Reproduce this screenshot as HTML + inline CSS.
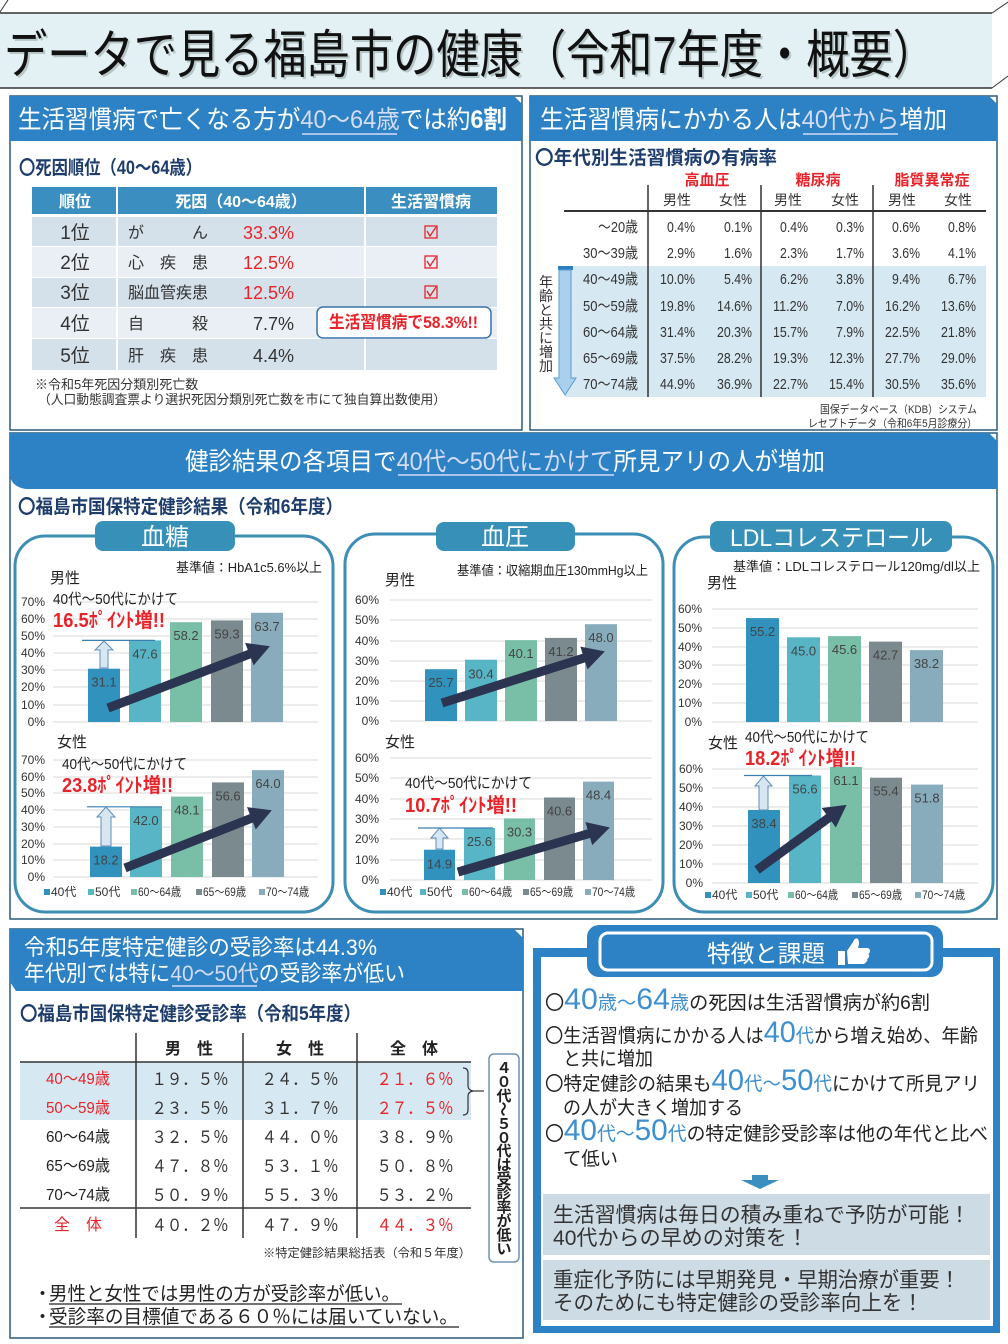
<!DOCTYPE html>
<html><head><meta charset="utf-8">
<style>
html,body{margin:0;padding:0;background:#fff;width:1008px;height:1344px;overflow:hidden}
svg{display:block}
text{font-family:"Liberation Sans","Noto Sans CJK JP",sans-serif}
.w{fill:#fff}
.nv{fill:#1e3d6c;font-weight:bold}
.r{fill:#e8232a}
.ax{font-size:12px;fill:#333;text-anchor:end}
.bl{font-size:13px;fill:#444;text-anchor:middle}
.lg{font-size:12px;fill:#333}
.grid line{stroke:#d9d9d9;stroke-width:1}
</style></head><body>
<svg width="1008" height="1344" viewBox="0 0 1008 1344" xmlns="http://www.w3.org/2000/svg">
<defs>
<marker id="ah" markerUnits="userSpaceOnUse" markerWidth="22" markerHeight="24" refX="2" refY="12" orient="auto"><path d="M0,0 L22,12 L0,24 Z" fill="#2b3450"/></marker>
</defs>
<rect width="1008" height="1344" fill="#fff"/>

<!-- TITLE -->
<rect x="0" y="13" width="992" height="75" fill="#e3f1f5"/>
<line x1="0" y1="13" x2="992" y2="13" stroke="#333" stroke-width="1.5"/>
<line x1="0" y1="88" x2="992" y2="88" stroke="#333" stroke-width="1.5"/>
<line x1="992" y1="13" x2="1008" y2="2" stroke="#333" stroke-width="1"/>
<line x1="992" y1="88" x2="1008" y2="76" stroke="#333" stroke-width="1"/>
<line x1="0" y1="12" x2="8" y2="0" stroke="#333" stroke-width="1"/>
<text x="6" y="75" font-size="52" textLength="932" lengthAdjust="spacingAndGlyphs" fill="#9aa" opacity="0.6">データで見る福島市の健康（令和7年度・概要）</text>
<text x="4" y="73" font-size="52" textLength="932" lengthAdjust="spacingAndGlyphs" fill="#111">データで見る福島市の健康（令和7年度・概要）</text>

<!-- LEFT TOP -->
<rect x="10" y="96" width="512" height="334" fill="#fff" stroke="#2a5b7a" stroke-width="1.5"/>
<path d="M10,96 H514 L522,104 V141 H10 Z" fill="#2c82c4"/>
<text x="18" y="128" font-size="25" textLength="489" lengthAdjust="spacingAndGlyphs" class="w">生活習慣病で亡くなる方が<tspan fill="#d3dbf5">40～64歳</tspan>では約<tspan font-weight="bold">6割</tspan></text>
<line x1="302" y1="134" x2="397" y2="134" stroke="#d3dbf5" stroke-width="1.5"/>
<text x="19" y="174" font-size="19" textLength="183" lengthAdjust="spacingAndGlyphs" class="nv">〇死因順位（40～64歳）</text>

<rect x="32" y="187" width="465" height="27" fill="#3a8fc0"/>
<rect x="32" y="217" width="465" height="29" fill="#d5e1ea"/>
<rect x="32" y="247" width="465" height="30" fill="#e9eff4"/>
<rect x="32" y="278" width="465" height="29" fill="#d5e1ea"/>
<rect x="32" y="308" width="465" height="30" fill="#e9eff4"/>
<rect x="32" y="339" width="465" height="31" fill="#d5e1ea"/>
<line x1="117" y1="187" x2="117" y2="370" stroke="#fff" stroke-width="2"/>
<line x1="365" y1="187" x2="365" y2="370" stroke="#fff" stroke-width="2"/>
<g font-size="16" class="w" font-weight="bold" text-anchor="middle">
<text x="75" y="207">順位</text>
<text x="241" y="207">死因（40～64歳）</text>
<text x="431" y="207">生活習慣病</text>
</g>
<g font-size="19" fill="#333" text-anchor="middle">
<text x="75" y="239">1位</text>
<text x="75" y="269">2位</text>
<text x="75" y="299">3位</text>
<text x="75" y="330">4位</text>
<text x="75" y="362">5位</text>
</g>
<g font-size="16" fill="#333">
<text x="128" y="238">が　　　ん</text>
<text x="128" y="268">心　疾　患</text>
<text x="128" y="298">脳血管疾患</text>
<text x="128" y="329">自　　　殺</text>
<text x="128" y="361">肝　疾　患</text>
</g>
<g font-size="18" text-anchor="end">
<text x="294" y="239" class="r">33.3%</text>
<text x="294" y="269" class="r">12.5%</text>
<text x="294" y="299" class="r">12.5%</text>
<text x="294" y="330" fill="#333">7.7%</text>
<text x="294" y="362" fill="#333">4.4%</text>
</g>
<g fill="none" stroke="#e8232a" stroke-width="1.3">
<rect x="425" y="226" width="12" height="12"/><polyline points="427,231 430,236 436,227"/>
<rect x="425" y="256" width="12" height="12"/><polyline points="427,261 430,266 436,257"/>
<rect x="425" y="286" width="12" height="12"/><polyline points="427,291 430,296 436,287"/>
</g>
<rect x="317" y="307" width="174" height="31" rx="6" fill="#fff" stroke="#3a72a8" stroke-width="1.5"/>
<text x="329" y="328" font-size="17" font-weight="bold" class="r" textLength="149" lengthAdjust="spacingAndGlyphs">生活習慣病で58.3%!!</text>
<text x="35" y="389" font-size="13" fill="#333">※令和5年死因分類別死亡数</text>
<text x="38" y="404" font-size="13" fill="#333" textLength="408" lengthAdjust="spacingAndGlyphs">（人口動態調査票より選択死因分類別死亡数を市にて独自算出数使用）</text>

<!-- RIGHT TOP -->
<rect x="530" y="96" width="467" height="334" fill="#fff" stroke="#2a5b7a" stroke-width="1.5"/>
<path d="M530,96 H989 L997,104 V141 H530 Z" fill="#2c82c4"/>
<text x="540" y="128" font-size="25" textLength="407" lengthAdjust="spacingAndGlyphs" class="w">生活習慣病にかかる人は<tspan fill="#d3dbf5">40代から</tspan>増加</text>
<line x1="803" y1="134" x2="898" y2="134" stroke="#d3dbf5" stroke-width="1.5"/>
<text x="535" y="164" font-size="19" textLength="242" lengthAdjust="spacingAndGlyphs" class="nv">〇年代別生活習慣病の有病率</text>
<rect x="565" y="266" width="421" height="131" fill="#d6e8f2"/>
<g font-size="15" font-weight="bold" class="r" text-anchor="middle">
<text x="707" y="185">高血圧</text><text x="818" y="185">糖尿病</text><text x="932" y="185">脂質異常症</text>
</g>
<g font-size="14" fill="#333" text-anchor="middle">
<text x="677" y="205">男性</text><text x="733" y="205">女性</text>
<text x="788" y="205">男性</text><text x="845" y="205">女性</text>
<text x="902" y="205">男性</text><text x="958" y="205">女性</text>
</g>
<line x1="564" y1="211" x2="986" y2="211" stroke="#333" stroke-width="2"/>
<g stroke="#333" stroke-width="1.5">
<line x1="648" y1="185" x2="648" y2="397"/><line x1="761" y1="185" x2="761" y2="397"/><line x1="873" y1="185" x2="873" y2="397"/>
</g>
<g font-size="15" fill="#333" text-anchor="end">
<text x="638" y="232" textLength="40" lengthAdjust="spacingAndGlyphs">～20歳</text>
<text x="638" y="258" textLength="55" lengthAdjust="spacingAndGlyphs">30～39歳</text>
<text x="638" y="284" textLength="55" lengthAdjust="spacingAndGlyphs">40～49歳</text>
<text x="638" y="311" textLength="55" lengthAdjust="spacingAndGlyphs">50～59歳</text>
<text x="638" y="337" textLength="55" lengthAdjust="spacingAndGlyphs">60～64歳</text>
<text x="638" y="363" textLength="55" lengthAdjust="spacingAndGlyphs">65～69歳</text>
<text x="638" y="389" textLength="55" lengthAdjust="spacingAndGlyphs">70～74歳</text>

<text x="695" y="232" textLength="28" lengthAdjust="spacingAndGlyphs">0.4%</text>
<text x="752" y="232" textLength="28" lengthAdjust="spacingAndGlyphs">0.1%</text>
<text x="808" y="232" textLength="28" lengthAdjust="spacingAndGlyphs">0.4%</text>
<text x="864" y="232" textLength="28" lengthAdjust="spacingAndGlyphs">0.3%</text>
<text x="920" y="232" textLength="28" lengthAdjust="spacingAndGlyphs">0.6%</text>
<text x="976" y="232" textLength="28" lengthAdjust="spacingAndGlyphs">0.8%</text>

<text x="695" y="258" textLength="28" lengthAdjust="spacingAndGlyphs">2.9%</text>
<text x="752" y="258" textLength="28" lengthAdjust="spacingAndGlyphs">1.6%</text>
<text x="808" y="258" textLength="28" lengthAdjust="spacingAndGlyphs">2.3%</text>
<text x="864" y="258" textLength="28" lengthAdjust="spacingAndGlyphs">1.7%</text>
<text x="920" y="258" textLength="28" lengthAdjust="spacingAndGlyphs">3.6%</text>
<text x="976" y="258" textLength="28" lengthAdjust="spacingAndGlyphs">4.1%</text>

<text x="695" y="284" textLength="35" lengthAdjust="spacingAndGlyphs">10.0%</text>
<text x="752" y="284" textLength="28" lengthAdjust="spacingAndGlyphs">5.4%</text>
<text x="808" y="284" textLength="28" lengthAdjust="spacingAndGlyphs">6.2%</text>
<text x="864" y="284" textLength="28" lengthAdjust="spacingAndGlyphs">3.8%</text>
<text x="920" y="284" textLength="28" lengthAdjust="spacingAndGlyphs">9.4%</text>
<text x="976" y="284" textLength="28" lengthAdjust="spacingAndGlyphs">6.7%</text>

<text x="695" y="311" textLength="35" lengthAdjust="spacingAndGlyphs">19.8%</text>
<text x="752" y="311" textLength="35" lengthAdjust="spacingAndGlyphs">14.6%</text>
<text x="808" y="311" textLength="35" lengthAdjust="spacingAndGlyphs">11.2%</text>
<text x="864" y="311" textLength="28" lengthAdjust="spacingAndGlyphs">7.0%</text>
<text x="920" y="311" textLength="35" lengthAdjust="spacingAndGlyphs">16.2%</text>
<text x="976" y="311" textLength="35" lengthAdjust="spacingAndGlyphs">13.6%</text>

<text x="695" y="337" textLength="35" lengthAdjust="spacingAndGlyphs">31.4%</text>
<text x="752" y="337" textLength="35" lengthAdjust="spacingAndGlyphs">20.3%</text>
<text x="808" y="337" textLength="35" lengthAdjust="spacingAndGlyphs">15.7%</text>
<text x="864" y="337" textLength="28" lengthAdjust="spacingAndGlyphs">7.9%</text>
<text x="920" y="337" textLength="35" lengthAdjust="spacingAndGlyphs">22.5%</text>
<text x="976" y="337" textLength="35" lengthAdjust="spacingAndGlyphs">21.8%</text>

<text x="695" y="363" textLength="35" lengthAdjust="spacingAndGlyphs">37.5%</text>
<text x="752" y="363" textLength="35" lengthAdjust="spacingAndGlyphs">28.2%</text>
<text x="808" y="363" textLength="35" lengthAdjust="spacingAndGlyphs">19.3%</text>
<text x="864" y="363" textLength="35" lengthAdjust="spacingAndGlyphs">12.3%</text>
<text x="920" y="363" textLength="35" lengthAdjust="spacingAndGlyphs">27.7%</text>
<text x="976" y="363" textLength="35" lengthAdjust="spacingAndGlyphs">29.0%</text>

<text x="695" y="389" textLength="35" lengthAdjust="spacingAndGlyphs">44.9%</text>
<text x="752" y="389" textLength="35" lengthAdjust="spacingAndGlyphs">36.9%</text>
<text x="808" y="389" textLength="35" lengthAdjust="spacingAndGlyphs">22.7%</text>
<text x="864" y="389" textLength="35" lengthAdjust="spacingAndGlyphs">15.4%</text>
<text x="920" y="389" textLength="35" lengthAdjust="spacingAndGlyphs">30.5%</text>
<text x="976" y="389" textLength="35" lengthAdjust="spacingAndGlyphs">35.6%</text>
</g>
<!-- vertical arrow -->
<rect x="558" y="266" width="15" height="4" fill="#2f7fbf"/>
<polygon points="559,270 571,270 571,378 576,378 565,395 554,378 559,378" fill="#a9d0ec" stroke="#5b9bd5" stroke-width="1"/>
<g font-size="14" fill="#333" text-anchor="middle">
<text x="546" y="287">年</text><text x="546" y="301">齢</text><text x="546" y="315">と</text><text x="546" y="329">共</text><text x="546" y="343">に</text><text x="546" y="357">増</text><text x="546" y="371">加</text>
</g>
<text x="977" y="413" font-size="11" fill="#333" text-anchor="end" textLength="157" lengthAdjust="spacingAndGlyphs">国保データベース（KDB）システム</text>
<text x="977" y="427" font-size="11" fill="#333" text-anchor="end" textLength="169" lengthAdjust="spacingAndGlyphs">レセプトデータ（令和6年5月診療分）</text>

<!-- MIDDLE SECTION -->
<rect x="10" y="433" width="987" height="486" fill="#fff" stroke="#2a5b7a" stroke-width="1.5"/>
<path d="M10,433 H989 L997,441 V489 H26 Q12,487 10,476 Z" fill="#2c82c4"/>
<text x="185" y="470" font-size="25" textLength="640" lengthAdjust="spacingAndGlyphs" class="w">健診結果の各項目で<tspan fill="#d3dbf5">40代～50代にかけて</tspan>所見アリの人が増加</text>
<line x1="398" y1="475" x2="614" y2="475" stroke="#d3dbf5" stroke-width="1.5"/>
<text x="18" y="513" font-size="19" textLength="325" lengthAdjust="spacingAndGlyphs" class="nv">〇福島市国保特定健診結果（令和6年度）</text>

<!-- panels -->
<rect x="15" y="536" width="318" height="376" rx="30" fill="#fff" stroke="#3d8eb5" stroke-width="3"/>
<rect x="345" y="534" width="318" height="378" rx="30" fill="#fff" stroke="#3d8eb5" stroke-width="3"/>
<rect x="674" y="537" width="319" height="375" rx="30" fill="#fff" stroke="#3d8eb5" stroke-width="3"/>
<rect x="95" y="521" width="140" height="30" rx="8" fill="#3790b8"/>
<rect x="436" y="522" width="139" height="29" rx="8" fill="#3790b8"/>
<rect x="710" y="521" width="242" height="31" rx="8" fill="#3790b8"/>
<text x="165" y="545" font-size="24" class="w" text-anchor="middle">血糖</text>
<text x="505" y="545" font-size="24" class="w" text-anchor="middle">血圧</text>
<text x="730" y="546" font-size="24" class="w" textLength="203" lengthAdjust="spacingAndGlyphs">LDLコレステロール</text>

<!-- CHART 1 -->
<text x="322" y="572" font-size="13" fill="#222" text-anchor="end" textLength="146" lengthAdjust="spacingAndGlyphs">基準値：HbA1c5.6%以上</text>
<text x="50" y="583" font-size="15" fill="#222">男性</text>
<g class="grid">
<line x1="53" y1="602" x2="318" y2="602"/><line x1="53" y1="619" x2="318" y2="619"/><line x1="53" y1="636" x2="318" y2="636"/><line x1="53" y1="653" x2="318" y2="653"/><line x1="53" y1="670" x2="318" y2="670"/><line x1="53" y1="687" x2="318" y2="687"/><line x1="53" y1="705" x2="318" y2="705"/><line x1="53" y1="722" x2="318" y2="722"/>
<line x1="53" y1="760" x2="318" y2="760"/><line x1="53" y1="777" x2="318" y2="777"/><line x1="53" y1="793" x2="318" y2="793"/><line x1="53" y1="810" x2="318" y2="810"/><line x1="53" y1="827" x2="318" y2="827"/><line x1="53" y1="844" x2="318" y2="844"/><line x1="53" y1="860" x2="318" y2="860"/><line x1="53" y1="877" x2="318" y2="877"/>
</g>
<g class="ax">
<text x="45" y="606">70%</text><text x="45" y="623">60%</text><text x="45" y="640">50%</text><text x="45" y="657">40%</text><text x="45" y="674">30%</text><text x="45" y="691">20%</text><text x="45" y="709">10%</text><text x="45" y="726">0%</text>
<text x="45" y="764">70%</text><text x="45" y="781">60%</text><text x="45" y="797">50%</text><text x="45" y="814">40%</text><text x="45" y="831">30%</text><text x="45" y="848">20%</text><text x="45" y="864">10%</text><text x="45" y="881">0%</text>
</g>
<rect x="88" y="668.7" width="32" height="53.3" fill="#3192bd"/>
<rect x="129" y="640.4" width="32" height="81.6" fill="#57b5c6"/>
<rect x="170" y="622.2" width="32" height="99.8" fill="#79bea7"/>
<rect x="211" y="620.4" width="32" height="101.6" fill="#7b8a8e"/>
<rect x="251" y="612.8" width="32" height="109.2" fill="#88acbb"/>
<g class="bl"><text x="104" y="686.7">31.1</text><text x="145" y="658.4">47.6</text><text x="186" y="640.2">58.2</text><text x="227" y="638.4">59.3</text><text x="267" y="630.8">63.7</text></g>
<line x1="82" y1="640.4" x2="155" y2="640.4" stroke="#3a7fb0" stroke-width="1.2"/>
<polygon points="100,668 100,650 95,650 104,641 113,650 108,650 108,668" fill="#d8e6f2" stroke="#5f8db8" stroke-width="1"/>
<line x1="108" y1="708" x2="251.2" y2="653.4" stroke="#2b3450" stroke-width="9" marker-end="url(#ah)"/>
<text x="53" y="604" font-size="15" fill="#222" textLength="125" lengthAdjust="spacingAndGlyphs">40代～50代にかけて</text>
<text x="53" y="627" font-size="20" font-weight="bold" class="r" textLength="112" lengthAdjust="spacingAndGlyphs">16.5ﾎﾟｲﾝﾄ増!!</text>

<text x="57" y="747" font-size="15" fill="#222">女性</text>
<rect x="90" y="846.6" width="32" height="30.4" fill="#3192bd"/>
<rect x="130" y="806.8" width="32" height="70.2" fill="#57b5c6"/>
<rect x="171" y="796.6" width="32" height="80.4" fill="#79bea7"/>
<rect x="212" y="782.4" width="32" height="94.6" fill="#7b8a8e"/>
<rect x="252" y="770.1" width="32" height="106.9" fill="#88acbb"/>
<g class="bl"><text x="106" y="864.6">18.2</text><text x="146" y="824.8">42.0</text><text x="187" y="814.6">48.1</text><text x="228" y="800.4">56.6</text><text x="268" y="788.1">64.0</text></g>
<line x1="87" y1="806.8" x2="162" y2="806.8" stroke="#3a7fb0" stroke-width="1.2"/>
<polygon points="101,846 101,817 97,817 106,807 115,817 111,817 111,846" fill="#d8e6f2" stroke="#5f8db8" stroke-width="1"/>
<line x1="125" y1="868" x2="253.2" y2="817.6" stroke="#2b3450" stroke-width="9" marker-end="url(#ah)"/>
<text x="62" y="769" font-size="15" fill="#222" textLength="125" lengthAdjust="spacingAndGlyphs">40代～50代にかけて</text>
<text x="62" y="792" font-size="20" font-weight="bold" class="r" textLength="111" lengthAdjust="spacingAndGlyphs">23.8ﾎﾟｲﾝﾄ増!!</text>
<rect x="44" y="889" width="6" height="6" fill="#3192bd"/><text x="51" y="896" class="lg">40代</text>
<rect x="88" y="889" width="6" height="6" fill="#57b5c6"/><text x="95" y="896" class="lg">50代</text>
<rect x="131" y="889" width="6" height="6" fill="#79bea7"/><text x="138" y="896" class="lg" textLength="43" lengthAdjust="spacingAndGlyphs">60～64歳</text>
<rect x="196" y="889" width="6" height="6" fill="#7b8a8e"/><text x="203" y="896" class="lg" textLength="43" lengthAdjust="spacingAndGlyphs">65～69歳</text>
<rect x="259" y="889" width="6" height="6" fill="#88acbb"/><text x="266" y="896" class="lg" textLength="43" lengthAdjust="spacingAndGlyphs">70～74歳</text>

<!-- CHART 2 -->
<text x="648" y="575" font-size="13" fill="#222" text-anchor="end" textLength="191" lengthAdjust="spacingAndGlyphs">基準値：収縮期血圧130mmHg以上</text>
<text x="385" y="585" font-size="15" fill="#222">男性</text>
<g class="grid">
<line x1="390" y1="600" x2="652" y2="600"/><line x1="390" y1="620" x2="652" y2="620"/><line x1="390" y1="641" x2="652" y2="641"/><line x1="390" y1="661" x2="652" y2="661"/><line x1="390" y1="681" x2="652" y2="681"/><line x1="390" y1="701" x2="652" y2="701"/><line x1="390" y1="721" x2="652" y2="721"/>
<line x1="390" y1="758" x2="652" y2="758"/><line x1="390" y1="778" x2="652" y2="778"/><line x1="390" y1="799" x2="652" y2="799"/><line x1="390" y1="819" x2="652" y2="819"/><line x1="390" y1="839" x2="652" y2="839"/><line x1="390" y1="860" x2="652" y2="860"/><line x1="390" y1="880" x2="652" y2="880"/>
</g>
<g class="ax">
<text x="379" y="604">60%</text><text x="379" y="624">50%</text><text x="379" y="645">40%</text><text x="379" y="665">30%</text><text x="379" y="685">20%</text><text x="379" y="705">10%</text><text x="379" y="725">0%</text>
<text x="379" y="762">60%</text><text x="379" y="782">50%</text><text x="379" y="803">40%</text><text x="379" y="823">30%</text><text x="379" y="843">20%</text><text x="379" y="864">10%</text><text x="379" y="884">0%</text>
</g>
<rect x="425" y="669.2" width="32" height="51.8" fill="#3192bd"/>
<rect x="465" y="659.7" width="32" height="61.3" fill="#57b5c6"/>
<rect x="505" y="640.1" width="32" height="80.9" fill="#79bea7"/>
<rect x="545" y="637.9" width="32" height="83.1" fill="#7b8a8e"/>
<rect x="585" y="624.2" width="32" height="96.8" fill="#88acbb"/>
<g class="bl"><text x="441" y="687.2">25.7</text><text x="481" y="678.7">30.4</text><text x="521" y="658.1">40.1</text><text x="561" y="655.9">41.2</text><text x="601" y="642.2">48.0</text></g>
<line x1="442" y1="703" x2="585.8" y2="657.4" stroke="#2b3450" stroke-width="9" marker-end="url(#ah)"/>

<text x="385" y="747" font-size="15" fill="#222">女性</text>
<rect x="424" y="849.7" width="31" height="30.3" fill="#3192bd"/>
<rect x="464" y="828" width="31" height="52" fill="#57b5c6"/>
<rect x="504" y="818.4" width="31" height="61.6" fill="#79bea7"/>
<rect x="544" y="797.5" width="31" height="82.5" fill="#7b8a8e"/>
<rect x="583" y="781.6" width="31" height="98.4" fill="#88acbb"/>
<g class="bl"><text x="439.5" y="868.7">14.9</text><text x="479.5" y="846">25.6</text><text x="519.5" y="836.4">30.3</text><text x="559.5" y="815.5">40.6</text><text x="598.5" y="799.6">48.4</text></g>
<line x1="418" y1="828" x2="493" y2="828" stroke="#3a7fb0" stroke-width="1.2"/>
<polygon points="436,849 436,838 431,838 439.5,828 448,838 443,838 443,849" fill="#d8e6f2" stroke="#5f8db8" stroke-width="1"/>
<line x1="458" y1="872" x2="590.7" y2="833.1" stroke="#2b3450" stroke-width="9" marker-end="url(#ah)"/>
<text x="405" y="788" font-size="15" fill="#222" textLength="127" lengthAdjust="spacingAndGlyphs">40代～50代にかけて</text>
<text x="405" y="812" font-size="20" font-weight="bold" class="r" textLength="112" lengthAdjust="spacingAndGlyphs">10.7ﾎﾟｲﾝﾄ増!!</text>
<rect x="380" y="889" width="6" height="6" fill="#3192bd"/><text x="387" y="896" class="lg">40代</text>
<rect x="420" y="889" width="6" height="6" fill="#57b5c6"/><text x="427" y="896" class="lg">50代</text>
<rect x="462" y="889" width="6" height="6" fill="#79bea7"/><text x="469" y="896" class="lg" textLength="43" lengthAdjust="spacingAndGlyphs">60～64歳</text>
<rect x="523" y="889" width="6" height="6" fill="#7b8a8e"/><text x="530" y="896" class="lg" textLength="43" lengthAdjust="spacingAndGlyphs">65～69歳</text>
<rect x="585" y="889" width="6" height="6" fill="#88acbb"/><text x="592" y="896" class="lg" textLength="43" lengthAdjust="spacingAndGlyphs">70～74歳</text>

<!-- CHART 3 -->
<text x="980" y="571" font-size="13" fill="#222" text-anchor="end" textLength="247" lengthAdjust="spacingAndGlyphs">基準値：LDLコレステロール120mg/dl以上</text>
<text x="707" y="588" font-size="15" fill="#222">男性</text>
<g class="grid">
<line x1="712" y1="609" x2="978" y2="609"/><line x1="712" y1="628" x2="978" y2="628"/><line x1="712" y1="647" x2="978" y2="647"/><line x1="712" y1="665" x2="978" y2="665"/><line x1="712" y1="684" x2="978" y2="684"/><line x1="712" y1="703" x2="978" y2="703"/><line x1="712" y1="722" x2="978" y2="722"/>
<line x1="712" y1="769" x2="978" y2="769"/><line x1="712" y1="788" x2="978" y2="788"/><line x1="712" y1="807" x2="978" y2="807"/><line x1="712" y1="826" x2="978" y2="826"/><line x1="712" y1="845" x2="978" y2="845"/><line x1="712" y1="864" x2="978" y2="864"/><line x1="712" y1="883" x2="978" y2="883"/>
</g>
<g class="ax">
<text x="702" y="613">60%</text><text x="702" y="632">50%</text><text x="702" y="651">40%</text><text x="702" y="669">30%</text><text x="702" y="688">20%</text><text x="702" y="707">10%</text><text x="702" y="726">0%</text>
<text x="703" y="773">60%</text><text x="703" y="792">50%</text><text x="703" y="811">40%</text><text x="703" y="830">30%</text><text x="703" y="849">20%</text><text x="703" y="868">10%</text><text x="703" y="887">0%</text>
</g>
<rect x="746" y="618.1" width="33" height="103.9" fill="#3192bd"/>
<rect x="787" y="637.3" width="33" height="84.7" fill="#57b5c6"/>
<rect x="828" y="636.1" width="33" height="85.9" fill="#79bea7"/>
<rect x="869" y="641.6" width="33" height="80.4" fill="#7b8a8e"/>
<rect x="910" y="650.1" width="33" height="71.9" fill="#88acbb"/>
<g class="bl"><text x="762.5" y="636.1">55.2</text><text x="803.5" y="655.3">45.0</text><text x="844.5" y="654.1">45.6</text><text x="885.5" y="659.6">42.7</text><text x="926.5" y="668.1">38.2</text></g>

<text x="708" y="748" font-size="15" fill="#222">女性</text>
<rect x="748" y="810" width="32" height="73" fill="#3192bd"/>
<rect x="789" y="775.5" width="32" height="107.5" fill="#57b5c6"/>
<rect x="830" y="766.9" width="32" height="116.1" fill="#79bea7"/>
<rect x="870" y="777.7" width="32" height="105.3" fill="#7b8a8e"/>
<rect x="911" y="784.6" width="32" height="98.4" fill="#88acbb"/>
<g class="bl"><text x="764" y="828">38.4</text><text x="805" y="793.5">56.6</text><text x="846" y="784.9">61.1</text><text x="886" y="795.7">55.4</text><text x="927" y="802.6">51.8</text></g>
<line x1="744" y1="775.5" x2="812" y2="775.5" stroke="#3a7fb0" stroke-width="1.2"/>
<polygon points="759,810 759,786 755,786 763.5,776 772,786 768,786 768,810" fill="#d8e6f2" stroke="#5f8db8" stroke-width="1"/>
<line x1="757" y1="870" x2="830.4" y2="816.6" stroke="#2b3450" stroke-width="9" marker-end="url(#ah)"/>
<text x="745" y="742" font-size="15" fill="#222" textLength="124" lengthAdjust="spacingAndGlyphs">40代～50代にかけて</text>
<text x="745" y="765" font-size="20" font-weight="bold" class="r" textLength="111" lengthAdjust="spacingAndGlyphs">18.2ﾎﾟｲﾝﾄ増!!</text>
<rect x="705" y="892" width="6" height="6" fill="#3192bd"/><text x="712" y="899" class="lg">40代</text>
<rect x="746" y="892" width="6" height="6" fill="#57b5c6"/><text x="753" y="899" class="lg">50代</text>
<rect x="788" y="892" width="6" height="6" fill="#79bea7"/><text x="795" y="899" class="lg" textLength="43" lengthAdjust="spacingAndGlyphs">60～64歳</text>
<rect x="852" y="892" width="6" height="6" fill="#7b8a8e"/><text x="859" y="899" class="lg" textLength="43" lengthAdjust="spacingAndGlyphs">65～69歳</text>
<rect x="915" y="892" width="6" height="6" fill="#88acbb"/><text x="922" y="899" class="lg" textLength="43" lengthAdjust="spacingAndGlyphs">70～74歳</text>

<!-- BOTTOM LEFT -->
<rect x="10" y="929" width="513" height="409" fill="#fff" stroke="#2a5b7a" stroke-width="1.5"/>
<path d="M10,929 H514 L523,938 V991 H16 L10,982 Z" fill="#2c82c4"/>
<text x="24" y="955" font-size="22" class="w" textLength="353" lengthAdjust="spacingAndGlyphs">令和5年度特定健診の受診率は44.3%</text>
<text x="24" y="981" font-size="22" class="w" textLength="381" lengthAdjust="spacingAndGlyphs">年代別では特に<tspan fill="#d3dbf5">40～50代</tspan>の受診率が低い</text>
<line x1="172" y1="986" x2="257" y2="986" stroke="#d3dbf5" stroke-width="1.5"/>
<text x="20" y="1020" font-size="19" textLength="341" lengthAdjust="spacingAndGlyphs" class="nv">〇福島市国保特定健診受診率（令和5年度）</text>
<rect x="20" y="1062" width="451" height="58" fill="#d6e8f2"/>
<g stroke="#333" stroke-width="1.5">
<line x1="136" y1="1033" x2="136" y2="1238"/><line x1="243" y1="1033" x2="243" y2="1238"/><line x1="357" y1="1033" x2="357" y2="1238"/>
<line x1="20" y1="1062" x2="471" y2="1062"/><line x1="20" y1="1208" x2="471" y2="1208"/>
</g>
<g font-size="16" font-weight="bold" fill="#222" text-anchor="middle">
<text x="189" y="1054">男　性</text><text x="300" y="1054">女　性</text><text x="414" y="1054">全　体</text>
</g>
<g font-size="16" text-anchor="middle">
<text x="78" y="1084" class="r" textLength="64" lengthAdjust="spacingAndGlyphs">40～49歳</text>
<text x="78" y="1113" class="r" textLength="64" lengthAdjust="spacingAndGlyphs">50～59歳</text>
<text x="78" y="1142" fill="#222" textLength="64" lengthAdjust="spacingAndGlyphs">60～64歳</text>
<text x="78" y="1171" fill="#222" textLength="64" lengthAdjust="spacingAndGlyphs">65～69歳</text>
<text x="78" y="1200" fill="#222" textLength="64" lengthAdjust="spacingAndGlyphs">70～74歳</text>
<text x="78" y="1230" class="r">全　体</text>
</g>
<g font-size="17" fill="#333" text-anchor="middle">
<text x="190" y="1085" textLength="77" lengthAdjust="spacingAndGlyphs">１９．５％</text>
<text x="300" y="1085" textLength="77" lengthAdjust="spacingAndGlyphs">２４．５％</text>
<text x="415" y="1085" textLength="77" lengthAdjust="spacingAndGlyphs" class="r">２１．６％</text>
<text x="190" y="1114" textLength="77" lengthAdjust="spacingAndGlyphs">２３．５％</text>
<text x="300" y="1114" textLength="77" lengthAdjust="spacingAndGlyphs">３１．７％</text>
<text x="415" y="1114" textLength="77" lengthAdjust="spacingAndGlyphs" class="r">２７．５％</text>
<text x="190" y="1143" textLength="77" lengthAdjust="spacingAndGlyphs">３２．５％</text>
<text x="300" y="1143" textLength="77" lengthAdjust="spacingAndGlyphs">４４．０％</text>
<text x="415" y="1143" textLength="77" lengthAdjust="spacingAndGlyphs">３８．９％</text>
<text x="190" y="1172" textLength="77" lengthAdjust="spacingAndGlyphs">４７．８％</text>
<text x="300" y="1172" textLength="77" lengthAdjust="spacingAndGlyphs">５３．１％</text>
<text x="415" y="1172" textLength="77" lengthAdjust="spacingAndGlyphs">５０．８％</text>
<text x="190" y="1201" textLength="77" lengthAdjust="spacingAndGlyphs">５０．９％</text>
<text x="300" y="1201" textLength="77" lengthAdjust="spacingAndGlyphs">５５．３％</text>
<text x="415" y="1201" textLength="77" lengthAdjust="spacingAndGlyphs">５３．２％</text>
<text x="190" y="1231" textLength="77" lengthAdjust="spacingAndGlyphs">４０．２％</text>
<text x="300" y="1231" textLength="77" lengthAdjust="spacingAndGlyphs">４７．９％</text>
<text x="415" y="1231" textLength="77" lengthAdjust="spacingAndGlyphs" class="r">４４．３％</text>
</g>
<path d="M463,1068 Q468,1068 468,1073 V1086 Q468,1090 473,1091 Q468,1092 468,1096 V1110 Q468,1115 463,1115" fill="none" stroke="#333" stroke-width="1.2"/>
<line x1="473" y1="1091" x2="484" y2="1091" stroke="#333" stroke-width="1.2"/>
<rect x="489" y="1054" width="30" height="208" rx="5" fill="#fff" stroke="#6f93b3" stroke-width="1.5"/>
<g font-size="15" font-weight="bold" fill="#222" text-anchor="middle">
<text x="504" y="1073">４</text><text x="504" y="1087">０</text><text x="504" y="1101">代</text>
<text x="504" y="1115" transform="rotate(90 504 1109)">～</text>
<text x="504" y="1129">５</text><text x="504" y="1143">０</text><text x="504" y="1156">代</text><text x="504" y="1170">は</text><text x="504" y="1184">受</text><text x="504" y="1198">診</text><text x="504" y="1212">率</text><text x="504" y="1226">が</text><text x="504" y="1240">低</text><text x="504" y="1254">い</text>
</g>
<text x="471" y="1257" font-size="12" fill="#333" text-anchor="end" textLength="208" lengthAdjust="spacingAndGlyphs">※特定健診結果総括表（令和５年度）</text>
<text x="33" y="1300" font-size="19" fill="#222">・</text>
<text x="49" y="1300" font-size="19" fill="#222" textLength="351" lengthAdjust="spacingAndGlyphs">男性と女性では男性の方が受診率が低い。</text>
<line x1="49" y1="1304" x2="402" y2="1304" stroke="#222" stroke-width="1.3"/>
<text x="33" y="1323" font-size="19" fill="#222">・</text>
<text x="49" y="1323" font-size="19" fill="#222" textLength="409" lengthAdjust="spacingAndGlyphs">受診率の目標値である６０％には届いていない。</text>
<line x1="49" y1="1327" x2="459" y2="1327" stroke="#222" stroke-width="1.3"/>

<!-- BOTTOM RIGHT -->
<rect x="533" y="948" width="467" height="385" fill="#2c82c4"/>
<rect x="541" y="957" width="452" height="369" fill="#fff"/>
<rect x="587" y="925" width="356" height="52" rx="12" fill="#2c82c4"/>
<rect x="600" y="933" width="332" height="37" rx="8" fill="#2c82c4" stroke="#fff" stroke-width="3"/>
<text x="707" y="962" font-size="24" class="w" textLength="118" lengthAdjust="spacingAndGlyphs">特徴と課題</text>
<path d="M838,951 h7 v14 h-7 z M847,951 l6,-9 q2,-5 5,-3 q2,3 0,9 h9 q3,0 3,3 q0,2 -2,3 q2,1 1,3 q-1,2 -2,2 q1,2 -1,3 q-1,2 -3,2 h-15 z" fill="#fff"/>
<g fill="#222">
<text x="545" y="1009" font-size="19" textLength="385" lengthAdjust="spacingAndGlyphs">〇<tspan fill="#3d8fd0" font-size="30">40</tspan><tspan fill="#3d8fd0">歳～</tspan><tspan fill="#3d8fd0" font-size="30">64</tspan><tspan fill="#3d8fd0">歳</tspan>の死因は生活習慣病が約6割</text>
<text x="545" y="1042" font-size="19" textLength="433" lengthAdjust="spacingAndGlyphs">〇生活習慣病にかかる人は<tspan fill="#3d8fd0" font-size="30">40</tspan><tspan fill="#3d8fd0">代</tspan>から増え始め、年齢</text>
<text x="563" y="1065" font-size="19" textLength="90" lengthAdjust="spacingAndGlyphs">と共に増加</text>
<text x="545" y="1090" font-size="19" textLength="435" lengthAdjust="spacingAndGlyphs">〇特定健診の結果も<tspan fill="#3d8fd0" font-size="30">40</tspan><tspan fill="#3d8fd0">代～</tspan><tspan fill="#3d8fd0" font-size="30">50</tspan><tspan fill="#3d8fd0">代</tspan>にかけて所見アリ</text>
<text x="563" y="1114" font-size="19" textLength="180" lengthAdjust="spacingAndGlyphs">の人が大きく増加する</text>
<text x="545" y="1140" font-size="19" textLength="443" lengthAdjust="spacingAndGlyphs">〇<tspan fill="#3d8fd0" font-size="30">40</tspan><tspan fill="#3d8fd0">代～</tspan><tspan fill="#3d8fd0" font-size="30">50</tspan><tspan fill="#3d8fd0">代</tspan>の特定健診受診率は他の年代と比べ</text>
<text x="563" y="1165" font-size="19" textLength="55" lengthAdjust="spacingAndGlyphs">て低い</text>
</g>
<polygon points="752,1175 768,1175 768,1180 779,1180 760,1189 741,1180 752,1180" fill="#3a8fc0"/>
<rect x="543" y="1194" width="447" height="61" fill="#cddbe5"/>
<rect x="543" y="1260" width="447" height="60" fill="#cddbe5"/>
<g font-size="21" fill="#333">
<text x="553" y="1222" textLength="417" lengthAdjust="spacingAndGlyphs">生活習慣病は毎日の積み重ねで予防が可能！</text>
<text x="553" y="1245" textLength="255" lengthAdjust="spacingAndGlyphs">40代からの早めの対策を！</text>
<text x="553" y="1287" textLength="407" lengthAdjust="spacingAndGlyphs">重症化予防には早期発見・早期治療が重要！</text>
<text x="553" y="1310" textLength="370" lengthAdjust="spacingAndGlyphs">そのためにも特定健診の受診率向上を！</text>
</g>
</svg>
</body></html>
